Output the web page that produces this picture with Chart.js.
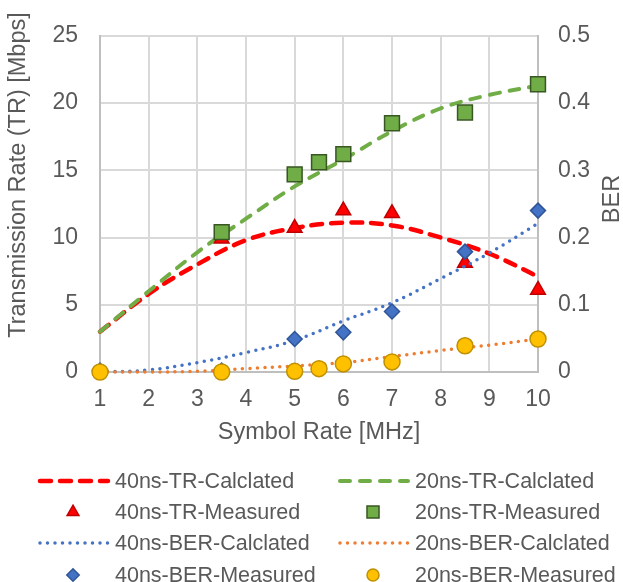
<!DOCTYPE html>
<html>
<head>
<meta charset="utf-8">
<script src="https://cdn.jsdelivr.net/npm/chart.js@4.4.1/dist/chart.umd.min.js"></script>
<style>
  html, body { margin: 0; padding: 0; background: #fff; }
</style>
</head>
<body>
<canvas id="chart" width="623" height="582"></canvas>
<script>
const calcRates = [1, 2, 3, 4, 5, 6, 7, 8, 9, 10]
const tr40Calc = [3.0, 5.8, 8.0, 9.8, 10.7, 11.1, 10.9, 10.0, 8.8, 7.1]
const tr20Calc = [3.0, 6.0, 8.9, 11.4, 13.8, 15.8, 17.9, 19.6, 20.6, 21.3]
const ber40Calc = [0, 0.003, 0.014, 0.029, 0.047, 0.076, 0.103, 0.139, 0.177, 0.221]
const ber20Calc = [0, 0, 0.001, 0.005, 0.009, 0.014, 0.023, 0.032, 0.040, 0.049]

// measured points
const tr40MeasRates = [3.5, 5, 6, 7, 8.5, 10]
const tr40Meas = [9.9, 10.7, 12.0, 11.8, 8.1, 6.1]
const tr20MeasRates = [3.5, 5, 5.5, 6, 7, 8.5, 10]
const tr20Meas = [10.4, 14.7, 15.6, 16.2, 18.5, 19.3, 21.4]
const ber40MeasRates = [1, 3.5, 5, 6, 7, 8.5, 10]
const ber40Meas = [0.002, 0.002, 0.049, 0.059, 0.090, 0.179, 0.240]
const ber20MeasRates = [1, 3.5, 5, 5.5, 6, 7, 8.5, 10]
const ber20Meas = [0, 0, 0.001, 0.005, 0.012, 0.015, 0.039, 0.049]

const textColor = '#595959'
const fontFamily = '"Liberation Sans", Arial, sans-serif'

const toPoints = (xs, ys) => xs.map((x, i) => ({ x: x, y: ys[i] }))

function curve(label, xs, ys, axis, color, width, dash) {
  return {
    label: label,
    data: toPoints(xs, ys),
    yAxisID: axis,
    showLine: true,
    tension: 0.4,
    pointRadius: 0,
    borderColor: color,
    backgroundColor: color,
    borderWidth: width,
    borderDash: dash,
    borderCapStyle: 'round',
    clip: false
  }
}

function markers(label, xs, ys, axis, style, radius, legendRadius, fill, edge) {
  return {
    label: label,
    data: toPoints(xs, ys),
    yAxisID: axis,
    showLine: false,
    pointStyle: style,
    pointRadius: radius,
    legendRadius: legendRadius,
    backgroundColor: fill,
    borderColor: edge,
    pointBackgroundColor: fill,
    pointBorderColor: edge,
    borderWidth: 1.5,
    pointBorderWidth: 1.5,
    clip: false
  }
}

let datasets = [
  curve('40ns-TR-Calclated', calcRates, tr40Calc, 'y', '#FF0000', 4.5, [11, 9]),
  curve('20ns-TR-Calclated', calcRates, tr20Calc, 'y', '#70AD47', 4, [10, 10]),
  markers('40ns-TR-Measured', tr40MeasRates, tr40Meas, 'y', 'triangle', 8.5, 6.8, '#FF0000', '#C00000'),
  markers('20ns-TR-Measured', tr20MeasRates, tr20Meas, 'y', 'rect', 10.5, 8.5, '#70AD47', '#385723'),
  curve('40ns-BER-Calclated', calcRates, ber40Calc, 'y1', '#4472C4', 3.5, [0, 7.5]),
  curve('20ns-BER-Calclated', calcRates, ber20Calc, 'y1', '#ED7D31', 3.5, [0, 7.5]),
  markers('40ns-BER-Measured', ber40MeasRates, ber40Meas, 'y1', 'rectRot', 7.5, 6.2, '#4472C4', '#2F5597'),
  markers('20ns-BER-Measured', ber20MeasRates, ber20Meas, 'y1', 'circle', 8, 6, '#FFC000', '#BF9000')
]
// later series are painted on top, as in the original
datasets.forEach((ds, i) => { ds.order = datasets.length - i })

// legend grid: two columns, four rows under the plot
const legendCols = [38, 338]
const legendRows = [481, 512, 543, 575]

const gridLegend = {
  id: 'gridLegend',
  afterDraw(chart) {
    let ctx = chart.ctx
    chart.data.datasets.forEach((ds, i) => {
      let x0 = legendCols[i % 2]
      let y = legendRows[Math.floor(i / 2)]
      ctx.save()
      if (ds.showLine) {
        ctx.strokeStyle = ds.borderColor
        ctx.lineWidth = ds.borderWidth
        ctx.lineCap = 'round'
        ctx.setLineDash(ds.borderDash)
        ctx.beginPath()
        ctx.moveTo(x0 + 2, y)
        ctx.lineTo(x0 + 70, y)
        ctx.stroke()
      } else {
        ctx.fillStyle = ds.backgroundColor
        ctx.strokeStyle = ds.borderColor
        ctx.lineWidth = ds.borderWidth
        Chart.helpers.drawPoint(ctx, { pointStyle: ds.pointStyle, radius: ds.legendRadius, borderWidth: ds.borderWidth, rotation: 0 }, x0 + 35, y)
      }
      ctx.fillStyle = textColor
      ctx.font = '21.5px ' + fontFamily
      ctx.textAlign = 'left'
      ctx.textBaseline = 'middle'
      ctx.fillText(ds.label, x0 + 77, y + 1)
      ctx.restore()
    })
  }
}

// both value-axis titles read bottom to top
const sideTitles = {
  id: 'sideTitles',
  afterDraw(chart) {
    let ctx = chart.ctx
    let draw = (text, x, y) => {
      ctx.save()
      ctx.translate(x, y)
      ctx.rotate(-Math.PI / 2)
      ctx.fillStyle = textColor
      ctx.font = '23.5px ' + fontFamily
      ctx.textAlign = 'center'
      ctx.textBaseline = 'middle'
      ctx.fillText(text, 0, 0)
      ctx.restore()
    }
    draw('Transmission Rate (TR) [Mbps]', 19, 175)
    draw('BER', 613, 199)
  }
}

const tickFont = { family: fontFamily, size: 23 }
const gridStyle = { color: '#D9D9D9', lineWidth: 2, drawTicks: false }
const axisBorder = { color: '#BFBFBF', width: 2 }

new Chart(document.getElementById('chart'), {
  type: 'scatter',
  data: { datasets: datasets },
  options: {
    responsive: false,
    animation: false,
    layout: { padding: { top: 24, left: 0, right: 0, bottom: 132 } },
    plugins: {
      legend: { display: false },
      tooltip: { enabled: false }
    },
    scales: {
      x: {
        type: 'linear',
        position: 'bottom',
        min: 1,
        max: 10,
        ticks: { stepSize: 1, padding: 14, color: textColor, font: tickFont },
        grid: gridStyle,
        border: axisBorder,
        title: {
          display: true,
          text: 'Symbol Rate [MHz]',
          color: textColor,
          font: { family: fontFamily, size: 23.5 },
          padding: { top: 0, bottom: 3 }
        },
        afterFit: scale => { scale.height = 78 }
      },
      y: {
        position: 'left',
        min: 0,
        max: 25,
        ticks: { stepSize: 5, padding: 22, color: textColor, font: tickFont },
        grid: gridStyle,
        border: axisBorder,
        afterFit: scale => { scale.width = 100 }
      },
      y1: {
        position: 'right',
        min: 0,
        max: 0.5,
        ticks: { stepSize: 0.1, padding: 20, color: textColor, font: tickFont },
        grid: { display: false, drawTicks: false },
        border: axisBorder,
        afterFit: scale => { scale.width = 85 }
      }
    }
  },
  plugins: [gridLegend, sideTitles]
})
</script>
</body>
</html>
